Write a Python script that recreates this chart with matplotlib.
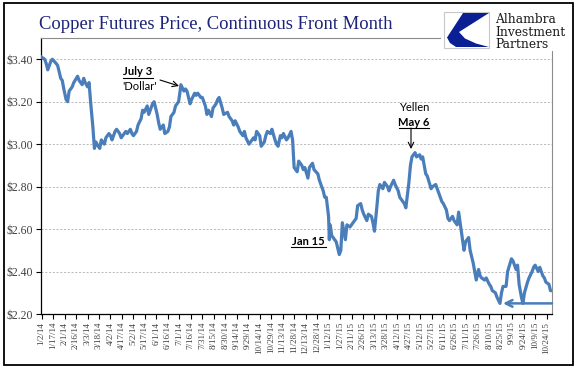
import matplotlib
matplotlib.use("Agg")
import matplotlib.pyplot as plt
import matplotlib.dates as mdates
import pandas as pd
from matplotlib.patches import Rectangle, Polygon
from matplotlib.lines import Line2D

# front-month copper, $/lb
dates = [
    "2014-01-02", "2014-01-06", "2014-01-08", "2014-01-10", "2014-01-14", "2014-01-16",
    "2014-01-21", "2014-01-23", "2014-01-27", "2014-01-29", "2014-01-31", "2014-02-03",
    "2014-02-05", "2014-02-07", "2014-02-11", "2014-02-13", "2014-02-18", "2014-02-20",
    "2014-02-24", "2014-02-26", "2014-02-28", "2014-03-03", "2014-03-05", "2014-03-07",
    "2014-03-10", "2014-03-12", "2014-03-14", "2014-03-17", "2014-03-19", "2014-03-21",
    "2014-03-25", "2014-03-27", "2014-03-31", "2014-04-02", "2014-04-04", "2014-04-08",
    "2014-04-10", "2014-04-14", "2014-04-16", "2014-04-22", "2014-04-24", "2014-04-28",
    "2014-04-30", "2014-05-02", "2014-05-06", "2014-05-08", "2014-05-12", "2014-05-14",
    "2014-05-16", "2014-05-20", "2014-05-22", "2014-05-27", "2014-05-29", "2014-06-02",
    "2014-06-04", "2014-06-06", "2014-06-10", "2014-06-12", "2014-06-16", "2014-06-18",
    "2014-06-20", "2014-06-24", "2014-06-26", "2014-06-30", "2014-07-02", "2014-07-03",
    "2014-07-07", "2014-07-09", "2014-07-11", "2014-07-15", "2014-07-17", "2014-07-21",
    "2014-07-23", "2014-07-25", "2014-07-29", "2014-07-31", "2014-08-04", "2014-08-06",
    "2014-08-08", "2014-08-12", "2014-08-14", "2014-08-18", "2014-08-20", "2014-08-22",
    "2014-08-26", "2014-08-28", "2014-09-02", "2014-09-04", "2014-09-08", "2014-09-10",
    "2014-09-12", "2014-09-16", "2014-09-18", "2014-09-22", "2014-09-24", "2014-09-26",
    "2014-09-30", "2014-10-02", "2014-10-06", "2014-10-08", "2014-10-10", "2014-10-14",
    "2014-10-16", "2014-10-20", "2014-10-22", "2014-10-24", "2014-10-28", "2014-10-30",
    "2014-11-03", "2014-11-05", "2014-11-07", "2014-11-10", "2014-11-12", "2014-11-14",
    "2014-11-18", "2014-11-20", "2014-11-24", "2014-11-26", "2014-11-28", "2014-12-02",
    "2014-12-04", "2014-12-08", "2014-12-10", "2014-12-12", "2014-12-16", "2014-12-18",
    "2014-12-22", "2014-12-24", "2014-12-29", "2014-12-31",
    "2015-01-05", "2015-01-07", "2015-01-09", "2015-01-12", "2015-01-13", "2015-01-14",
    "2015-01-15", "2015-01-16", "2015-01-20", "2015-01-22", "2015-01-26", "2015-01-28",
    "2015-01-30", "2015-02-03", "2015-02-05", "2015-02-09", "2015-02-11", "2015-02-13",
    "2015-02-17", "2015-02-19", "2015-02-23", "2015-02-25", "2015-02-27", "2015-03-03",
    "2015-03-05", "2015-03-09", "2015-03-11", "2015-03-13", "2015-03-16", "2015-03-18",
    "2015-03-20", "2015-03-24", "2015-03-26", "2015-03-30", "2015-04-01", "2015-04-03",
    "2015-04-07", "2015-04-09", "2015-04-13", "2015-04-15", "2015-04-17", "2015-04-21",
    "2015-04-23", "2015-04-27", "2015-04-29", "2015-05-01", "2015-05-05", "2015-05-07",
    "2015-05-11", "2015-05-13", "2015-05-15", "2015-05-19", "2015-05-21", "2015-05-26",
    "2015-05-28", "2015-06-01", "2015-06-03", "2015-06-05", "2015-06-09", "2015-06-11",
    "2015-06-15", "2015-06-17", "2015-06-19", "2015-06-23", "2015-06-25", "2015-06-29",
    "2015-07-01", "2015-07-06", "2015-07-08", "2015-07-10", "2015-07-14", "2015-07-16",
    "2015-07-20", "2015-07-22", "2015-07-24", "2015-07-27", "2015-07-29", "2015-07-31",
    "2015-08-04", "2015-08-06", "2015-08-10", "2015-08-12", "2015-08-14", "2015-08-18",
    "2015-08-20", "2015-08-24", "2015-08-26", "2015-08-28", "2015-09-01", "2015-09-03",
    "2015-09-08", "2015-09-10", "2015-09-14", "2015-09-16", "2015-09-18", "2015-09-21",
    "2015-09-23", "2015-09-25", "2015-09-29", "2015-10-01", "2015-10-05", "2015-10-07",
    "2015-10-09", "2015-10-13", "2015-10-15", "2015-10-19", "2015-10-21", "2015-10-23",
    "2015-10-27", "2015-10-29", "2015-10-30",
]
prices = [
    3.41, 3.40, 3.38, 3.35, 3.39, 3.40,
    3.38, 3.37, 3.31, 3.30, 3.26, 3.21,
    3.20, 3.25, 3.27, 3.29, 3.32, 3.30,
    3.28, 3.31, 3.29, 3.27, 3.29, 3.20,
    3.08, 2.98, 3.01, 2.99, 2.98, 3.02,
    3.00, 3.03, 3.05, 3.04, 3.02, 3.06,
    3.07, 3.05, 3.03, 3.06, 3.05, 3.07,
    3.05, 3.04, 3.06, 3.09, 3.12, 3.16,
    3.15, 3.18, 3.14, 3.19, 3.20, 3.14,
    3.10, 3.07, 3.09, 3.05, 3.06, 3.08,
    3.13, 3.15, 3.18, 3.20, 3.25, 3.28,
    3.25, 3.26, 3.25, 3.19, 3.21, 3.24,
    3.23, 3.24, 3.22, 3.22, 3.18, 3.14,
    3.16, 3.13, 3.17, 3.19, 3.21, 3.22,
    3.17, 3.14, 3.15, 3.13, 3.11, 3.09,
    3.11, 3.08, 3.06, 3.04, 3.06, 3.03,
    3.00, 3.01, 3.03, 3.02, 3.06, 3.04,
    2.99, 3.01, 3.04, 3.06, 3.05, 3.07,
    3.02, 3.00, 2.99, 3.04, 3.03, 3.05,
    3.02, 3.03, 3.06, 3.02, 2.89, 2.87,
    2.92, 2.90, 2.88, 2.89, 2.84, 2.89,
    2.91, 2.88, 2.86, 2.83,
    2.78, 2.75, 2.75, 2.66, 2.55, 2.62,
    2.60, 2.57, 2.55, 2.54, 2.48, 2.50,
    2.63, 2.55, 2.62, 2.61, 2.62, 2.63,
    2.65, 2.71, 2.72, 2.69, 2.67, 2.64,
    2.67, 2.66, 2.63, 2.59, 2.70, 2.78,
    2.81, 2.79, 2.82, 2.80, 2.78, 2.80,
    2.83, 2.81, 2.78, 2.75, 2.74, 2.72,
    2.70, 2.82, 2.90, 2.94, 2.96, 2.94,
    2.95, 2.93, 2.94, 2.86, 2.85, 2.79,
    2.80, 2.81, 2.79, 2.77, 2.73, 2.72,
    2.69, 2.65, 2.64, 2.66, 2.64, 2.62,
    2.68, 2.55, 2.50, 2.54, 2.56, 2.50,
    2.44, 2.40, 2.36, 2.41, 2.38, 2.37,
    2.36, 2.37, 2.34, 2.33, 2.31, 2.30,
    2.28, 2.25, 2.30, 2.33, 2.33, 2.40,
    2.46, 2.45, 2.41, 2.43, 2.34, 2.28,
    2.25, 2.30, 2.35, 2.37, 2.40, 2.42,
    2.43, 2.40, 2.42, 2.38, 2.37, 2.35,
    2.34, 2.31, 2.31,
]
y_ticks = [2.2, 2.4, 2.6, 2.8, 3.0, 3.2, 3.4]

title = "Copper Futures Price, Continuous Front Month"
logo_lines = ["Alhambra", "Investment", "Partners"]

W, H = 577, 386
LINE = "#4a7ebb"


def fx(x):
    return x / W


def fy(y):
    return 1 - y / H


def fp(x, y):
    # reference pixel (top-left origin) -> figure pixels
    return (x, H - y)


fig = plt.figure(figsize=(W / 100, H / 100), dpi=100)
ax = fig.add_axes([fx(41), fy(314), fx(552) - fx(41), fy(38) - fy(314)])

t = pd.to_datetime(dates)
ax.plot(t, prices, color=LINE, lw=2.3, solid_joinstyle="round", zorder=3)

ax.set_ylim(2.2, 3.5)
ax.set_yticks(y_ticks)
ax.set_yticklabels([f"${v:.2f}" for v in y_ticks], fontsize=8.5,
                   family="Liberation Serif", color="#404040")
ax.yaxis.grid(True, ls=(0, (2.5, 2)), lw=0.6, color="#b0b0b0")

x_ticks = pd.date_range("2014-01-02", "2015-10-30", freq="15D")
ax.set_xticks(x_ticks)
ax.set_xticklabels([f"{d.month}/{d.day}/{d.strftime('%y')}" for d in x_ticks],
                   rotation=90, fontsize=6.5, family="Liberation Serif", color="#404040")
ax.set_xlim(mdates.date2num(pd.Timestamp("2014-01-02")) - 0.8,
            mdates.date2num(pd.Timestamp("2015-10-31")))
ax.tick_params(axis="both", length=3.5, width=0.8, color="black", pad=2)

for s in ["left", "bottom"]:
    ax.spines[s].set_color("black")
    ax.spines[s].set_linewidth(0.9)
for s in ["top", "right"]:
    ax.spines[s].set_color("#8c8c8c")
    ax.spines[s].set_linewidth(0.8)


def xd(s):
    return mdates.date2num(pd.Timestamp(s))


def label(x, y, s, bold=False, underline=None):
    fig.text(fx(x), fy(y), s, family="Lato", fontsize=8, color="black",
             ha="center", va="baseline", fontweight="bold" if bold else "normal")
    if underline:
        x0, x1, yu = underline
        fig.add_artist(Line2D([fx(x0), fx(x1)], [fy(yu), fy(yu)],
                              transform=fig.transFigure, color="black", lw=0.8))


arrow = dict(arrowstyle="->", color="black", lw=0.8, shrinkA=0, shrinkB=0)

label(138, 75, "July 3", bold=True, underline=(123, 153, 77.5))
label(140, 89.5, "'Dollar'")
ax.annotate("", xy=fp(179, 86), xytext=fp(160, 80), xycoords="figure pixels",
            textcoords="figure pixels", arrowprops=arrow)

label(414, 111, "Yellen")
label(414, 125.5, "May 6", bold=True, underline=(399, 429, 127.5))
ax.annotate("", xy=fp(411, 149), xytext=fp(411, 128), xycoords="figure pixels",
            textcoords="figure pixels", arrowprops=arrow)

label(308.5, 245, "Jan 15", bold=True, underline=(291, 326, 247.5))

# support line arrow
ax.annotate("", xy=(xd("2015-08-28"), 2.25), xytext=(xd("2015-10-31"), 2.25),
            arrowprops=dict(arrowstyle="->", color=LINE, lw=1.8, mutation_scale=12,
                            shrinkA=0, shrinkB=0),
            annotation_clip=False)

# title
fig.text(fx(39), fy(29), title, family="Liberation Serif", fontsize=13.4,
         color="#1c2478", ha="left", va="baseline")

# logo
fig.patches.append(Rectangle((fx(441), fy(51)), fx(572) - fx(441), fy(5) - fy(51),
                             transform=fig.transFigure, facecolor="white",
                             edgecolor="none", zorder=5))
fig.patches.append(Rectangle((fx(444), fy(48)), fx(489) - fx(444), fy(12) - fy(48),
                             transform=fig.transFigure, facecolor="white",
                             edgecolor="#c8c8c8", lw=0.8, zorder=6))
mark = [(463, 13), (489, 13), (459, 32), (465, 38.5), (476, 43.5), (489, 47),
        (456, 47), (450, 43), (447, 37.5)]
fig.patches.append(Polygon([(fx(a), fy(b)) for a, b in mark], closed=True,
                           transform=fig.transFigure, facecolor="#0b1f94",
                           edgecolor="none", zorder=7))
for i, s in enumerate(logo_lines):
    fig.text(fx(495), fy(23 + 12.7 * i), s, family="DejaVu Serif", fontsize=8.8,
             color="#1a1a1a", ha="left", va="baseline", zorder=8)

# outer frame
fig.patches.append(Rectangle((fx(4), fy(365)), fx(573) - fx(4), fy(3) - fy(365),
                             transform=fig.transFigure, facecolor="none",
                             edgecolor="black", lw=1.3, zorder=9))

fig.savefig("out.png", dpi=100)
